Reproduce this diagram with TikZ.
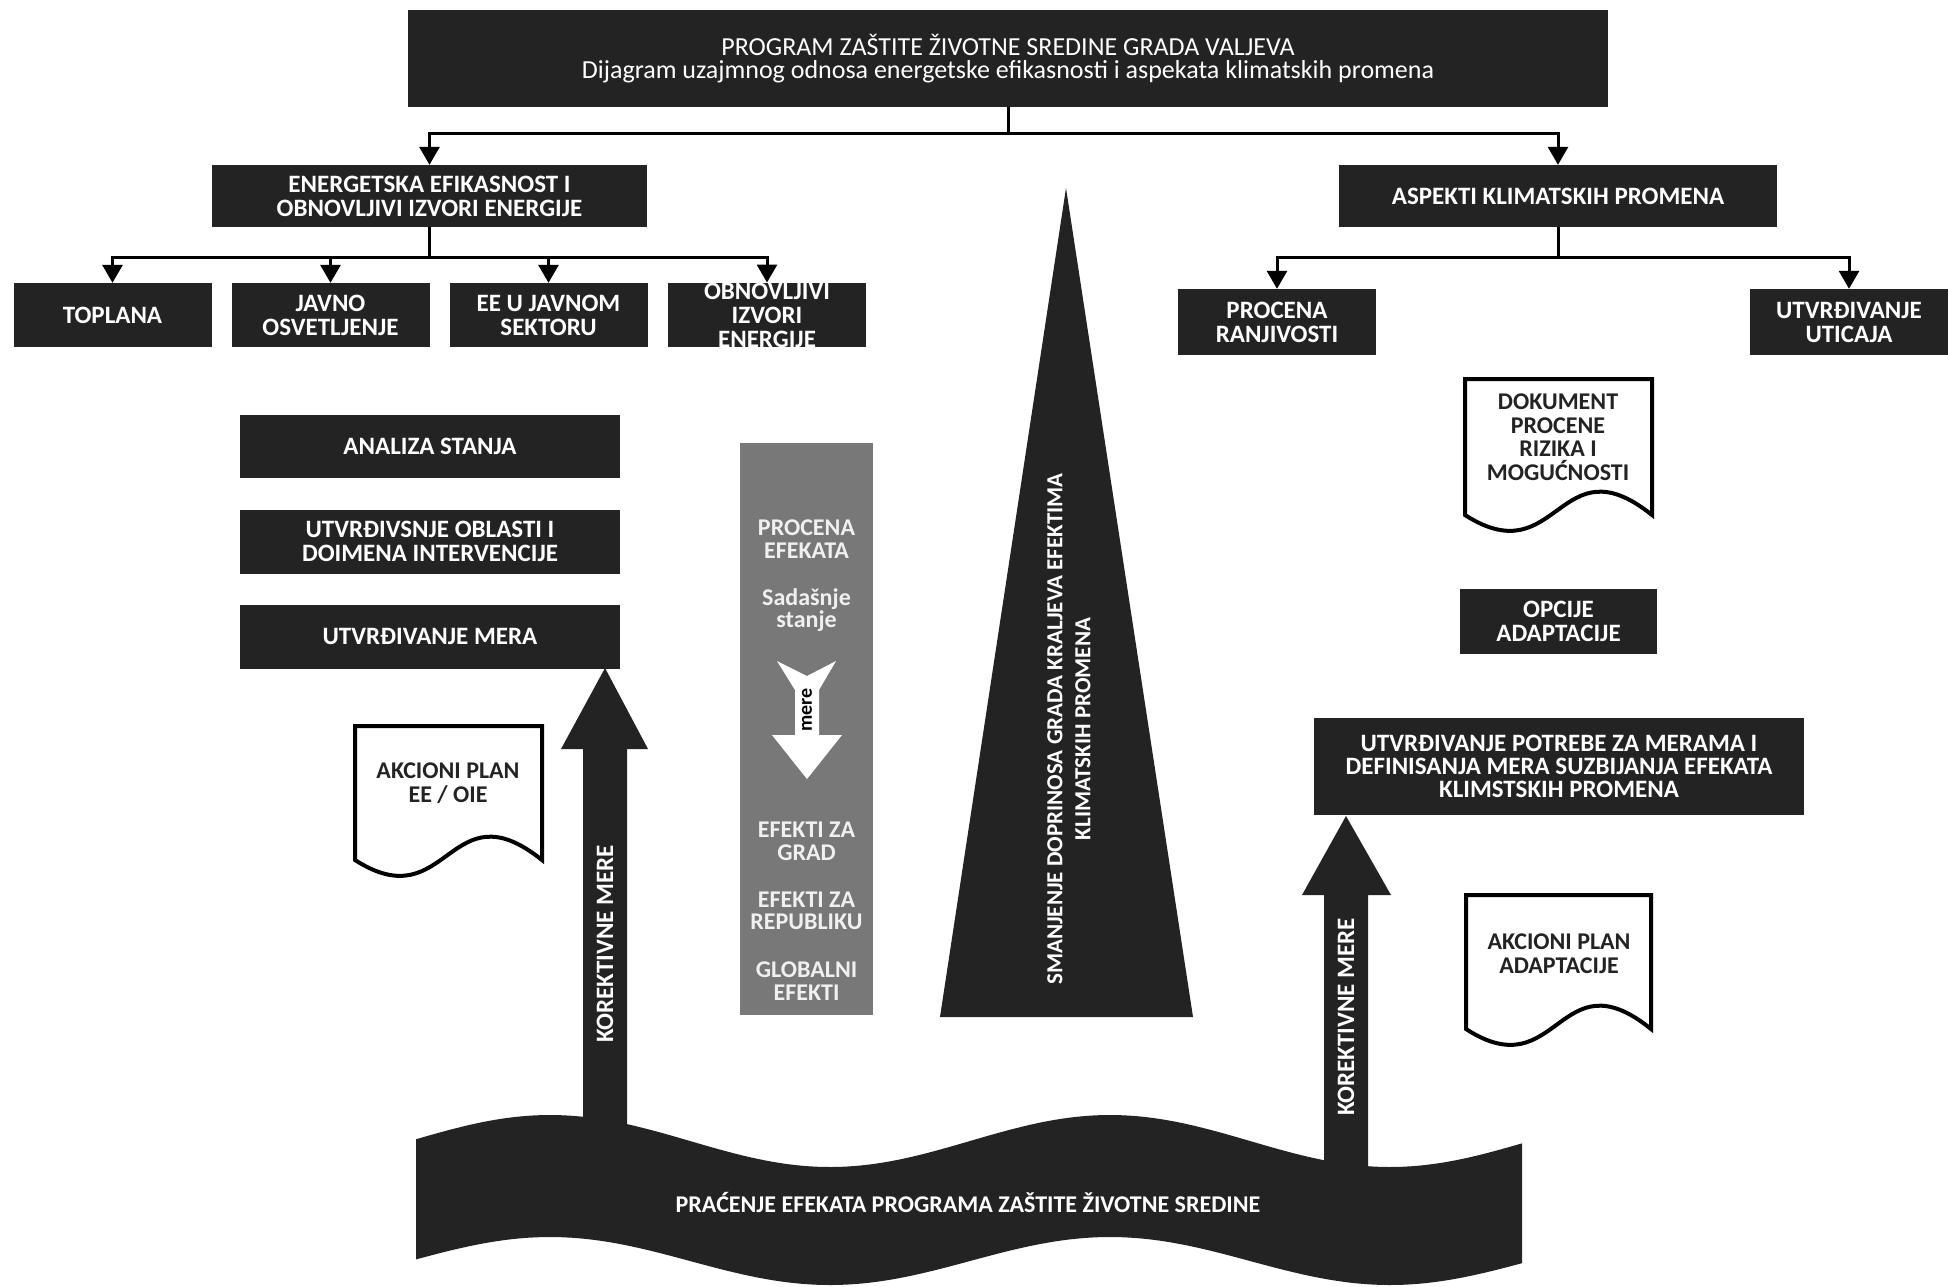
\documentclass[tikz,border=0pt]{standalone}
\usepackage{fontspec}
\setmainfont{Carlito}
\usetikzlibrary{arrows.meta}
\definecolor{dk}{RGB}{35,35,35}
\definecolor{gcol}{RGB}{120,120,120}
\definecolor{gtxt}{RGB}{240,240,240}
\begin{document}
\begin{tikzpicture}[x=1pt,y=-1pt,
  dbox/.style={fill=dk, text=white, align=center, inner sep=0pt, font=\bfseries\fontsize{25}{24}\selectfont},
  conn/.style={line width=3pt, draw=black},
  arr/.style={conn, -{Triangle[width=20pt,length=18pt]}},
  doc/.style={draw=black, line width=4pt, fill=white, line join=miter},
  doctext/.style={text=dk, align=center, inner sep=0pt, font=\bfseries\fontsize{24}{23.5}\selectfont},
  gtext/.style={text=gtxt, align=center, inner sep=0pt, font=\bfseries\fontsize{24}{22.5}\selectfont},
  bigarrtext/.style={text=white, rotate=90, inner sep=0pt, font=\bfseries\fontsize{25}{24}\selectfont}
]
\fill[white] (0,0) rectangle (1948,1286);
\useasboundingbox (0,0) rectangle (1948,1286);

% title
\node[dbox, minimum width=1200pt, minimum height=97pt, font=\fontsize{26}{23}\selectfont] (title) at (1008,58.5)
  {PROGRAM ZAŠTITE ŽIVOTNE SREDINE GRADA VALJEVA\\Dijagram uzajmnog odnosa energetske efikasnosti i aspekata klimatskih promena};

% second level
\node[dbox, minimum width=435pt, minimum height=62pt] (ee) at (429.5,196) {ENERGETSKA EFIKASNOST I\\OBNOVLJIVI IZVORI ENERGIJE};
\node[dbox, minimum width=438pt, minimum height=62pt] (akm) at (1558,196) {ASPEKTI KLIMATSKIH PROMENA};

% third level left
\node[dbox, minimum width=198pt, minimum height=64pt] (t1) at (112.5,315) {TOPLANA};
\node[dbox, minimum width=198pt, minimum height=64pt] (t2) at (330.5,315) {JAVNO\\OSVETLJENJE};
\node[dbox, minimum width=198pt, minimum height=64pt] (t3) at (548.5,315) {EE U JAVNOM\\SEKTORU};
\node[dbox, minimum width=198pt, minimum height=64pt] (t4) at (767,315) {OBNOVLJIVI\\IZVORI\\ENERGIJE};

% third level right
\node[dbox, minimum width=198pt, minimum height=66pt] (r1) at (1277,322) {PROCENA\\RANJIVOSTI};
\node[dbox, minimum width=198pt, minimum height=66pt] (r2) at (1849,322) {UTVRĐIVANJE\\UTICAJA};

% connectors
\coordinate (tb) at (1008,133);
\draw[conn] (title.south) -- (tb);
\draw[arr] (tb) -| (ee.north);
\draw[arr] (tb) -| (akm.north);
\coordinate (eb) at (429.5,257);
\draw[conn] (ee.south) -- (eb);
\draw[arr] (eb) -| (t1.north);
\draw[arr] (eb) -| (t2.north);
\draw[arr] (eb) -| (t3.north);
\draw[arr] (eb) -| (t4.north);
\coordinate (ab) at (1558,257);
\draw[conn] (akm.south) -- (ab);
\draw[arr] (ab) -| (r1.north);
\draw[arr] (ab) -| (r2.north);

% left column boxes
\node[dbox, minimum width=380pt, minimum height=63pt] (l1) at (430,446.5) {ANALIZA STANJA};
\node[dbox, minimum width=380pt, minimum height=64pt] (l2) at (430,541.5) {UTVRĐIVSNJE OBLASTI I\\DOIMENA INTERVENCIJE};
\node[dbox, minimum width=380pt, minimum height=64pt] (l3) at (430,636.5) {UTVRĐIVANJE MERA};

% gray column
\node[fill=gcol, minimum width=133pt, minimum height=572pt, inner sep=0pt] (gcolumn) at (806.5,729) {};
\node[gtext] (g1) at (806.5,539) {PROCENA\\EFEKATA};
\node[gtext] (g2) at (806.5,610) {Sadašnje\\stanje};
\node[gtext] (g3) at (806.5,841.5) {EFEKTI ZA\\GRAD};
\node[gtext] (g4) at (806.5,911) {EFEKTI ZA\\REPUBLIKU};
\node[gtext] (g5) at (806.5,981) {GLOBALNI\\EFEKTI};
\fill[white] (777,661) -- (807,676) -- (836,661) -- (819,690) -- (819,735) -- (842,735) -- (807,779)
  -- (772,735) -- (795,735) -- (795,690) -- cycle;
\node[rotate=90, text=black, inner sep=0pt, font=\bfseries\fontsize{20}{20}\selectfont] (mere) at (807,710) {mere};

% triangle
\fill[dk] (1066,188) -- (1193,1017) -- (940,1017) -- cycle;
\node[rotate=90, text=white, align=center, inner sep=0pt, font=\bfseries\fontsize{23}{28}\selectfont] (tri) at (1069,729)
  {SMANJENJE DOPRINOSA GRADA KRALJEVA EFEKTIMA\\KLIMATSKIH PROMENA};

% documents
\draw[doc] (1465,515) -- (1465,379) -- (1652,379) -- (1652,515) .. controls (1558.5,440) and (1558.5,575) .. (1465,515) -- cycle;
\node[doctext] (d1) at (1558,437) {DOKUMENT\\PROCENE\\RIZIKA I\\MOGUĆNOSTI};
\draw[doc] (1466,1029) -- (1466,895) -- (1651,895) -- (1651,1029) .. controls (1558.5,954) and (1558.5,1089) .. (1466,1029) -- cycle;
\node[doctext] (d2) at (1559,953.5) {AKCIONI PLAN\\ADAPTACIJE};
\draw[doc] (355,860) -- (355,726) -- (542,726) -- (542,860) .. controls (448.5,785) and (448.5,920) .. (355,860) -- cycle;
\node[doctext] (d3) at (448,783) {AKCIONI PLAN\\EE / OIE};

% right boxes
\node[dbox, minimum width=197pt, minimum height=65pt] (op) at (1558.5,621.5) {OPCIJE\\ADAPTACIJE};
\node[dbox, minimum width=490pt, minimum height=97pt, font=\bfseries\fontsize{25}{23}\selectfont] (pot) at (1559,766.5)
  {UTVRĐIVANJE POTREBE ZA MERAMA I\\DEFINISANJA MERA SUZBIJANJA EFEKATA\\KLIMSTSKIH PROMENA};

% big arrows
\fill[dk] (583,1140) -- (583,749) -- (561,749) -- (605,668) -- (648,749) -- (627,749) -- (627,1140) -- cycle;
\fill[dk] (1324,1180) -- (1324,895) -- (1302,895) -- (1346,816) -- (1391,895) -- (1368,895) -- (1368,1180) -- cycle;
\node[bigarrtext] (k1) at (605,944) {KOREKTIVNE MERE};
\node[bigarrtext] (k2) at (1346,1017) {KOREKTIVNE MERE};

% banner
\fill[dk] plot[domain=416:1522, samples=150] (\x, {1141-26*cos(((\x-550)/560)*360)})
  -- plot[domain=1522:416, samples=150] (\x, {1261-24*cos(((\x-550)/560)*360)}) -- cycle;
\node[text=white, inner sep=0pt, font=\bfseries\fontsize{24}{24}\selectfont] (mon) at (968,1202)
  {PRAĆENJE EFEKATA PROGRAMA ZAŠTITE ŽIVOTNE SREDINE};
\end{tikzpicture}
\end{document}
